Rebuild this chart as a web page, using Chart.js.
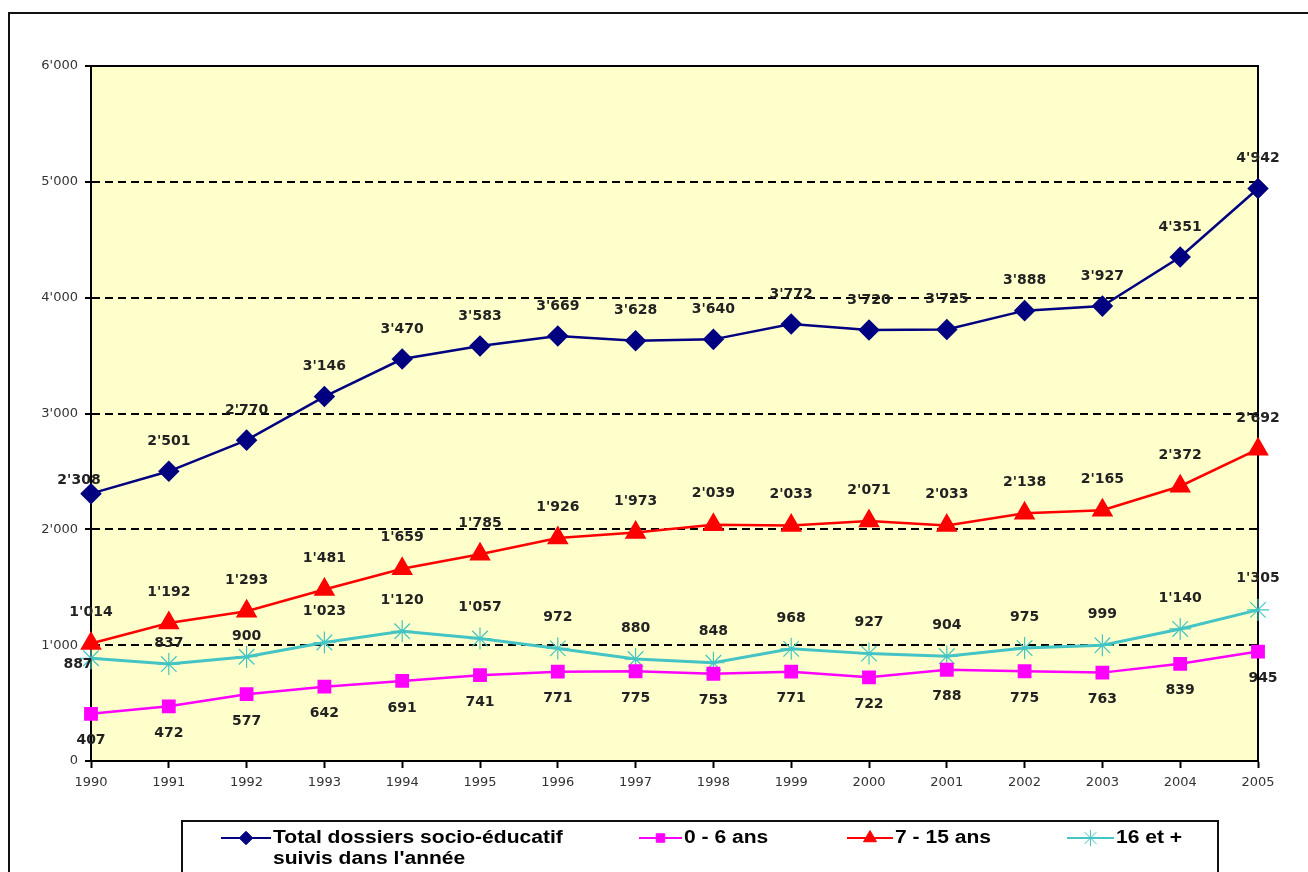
<!DOCTYPE html>
<html>
<head>
<meta charset="utf-8">
<script src="https://cdn.jsdelivr.net/npm/chart.js@4"></script>
<style>
  html,body{margin:0;padding:0;background:#fff;}
  #wrap{width:1308px;height:872px;position:relative;}
</style>
</head>
<body>
<div id="wrap"><canvas id="chart" width="1308" height="872"></canvas></div>
<script>
const years = ['1990','1991','1992','1993','1994','1995','1996','1997','1998','1999','2000','2001','2002','2003','2004','2005'];
const totalDossiers = [2308,2501,2770,3146,3470,3583,3669,3628,3640,3772,3720,3725,3888,3927,4351,4942];
const ans0a6 = [407,472,577,642,691,741,771,775,753,771,722,788,775,763,839,945];
const ans7a15 = [1014,1192,1293,1481,1659,1785,1926,1973,2039,2033,2071,2033,2138,2165,2372,2692];
const ans16plus = [887,837,900,1023,1120,1057,972,880,848,968,927,904,975,999,1140,1305];
const yTicks = [0,1000,2000,3000,4000,5000,6000];

const fmt = v => v >= 1000 ? Math.floor(v/1000) + "'" + String(v%1000).padStart(3,'0') : String(v);

// yellow plot area, outer frame, solid top/right edges
const plotFrame = {
  id:'plotFrame',
  beforeDraw(c){
    const {ctx, chartArea:a} = c;
    ctx.save();
    ctx.fillStyle = '#fff';
    ctx.fillRect(0,0,c.width,c.height);
    ctx.fillStyle = '#ffffcc';
    ctx.fillRect(a.left,a.top,a.right-a.left,a.bottom-a.top);
    ctx.strokeStyle = '#111'; ctx.lineWidth = 2;
    ctx.strokeRect(9,13,1330,900);
    ctx.restore();
  },
  beforeDatasetsDraw(c){
    const {ctx, chartArea:a} = c;
    ctx.save();
    ctx.strokeStyle = '#000'; ctx.lineWidth = 2;
    ctx.beginPath();
    ctx.moveTo(a.left,a.top); ctx.lineTo(a.right,a.top); ctx.lineTo(a.right,a.bottom);
    ctx.stroke();
    ctx.restore();
  }
};

// value labels next to each point
const valueLabels = {
  id:'valueLabels',
  afterDatasetsDraw(c){
    const ctx = c.ctx;
    ctx.save();
    ctx.font = 'bold 14px "DejaVu Sans", sans-serif';
    ctx.fillStyle = '#222';
    ctx.textAlign = 'center';
    ctx.textBaseline = 'middle';
    c.data.datasets.forEach((ds,i) => {
      const meta = c.getDatasetMeta(i);
      meta.data.forEach((pt,j) => {
        const shift = (ds.labelShift && ds.labelShift[j]) || [0,0];
        ctx.fillText(fmt(ds.data[j]), pt.x + shift[0], pt.y + ds.labelDy + shift[1]);
      });
    });
    ctx.restore();
  }
};

// boxed legend under the chart, first entry on two lines
const boxLegend = {
  id:'boxLegend',
  afterDraw(c){
    const ctx = c.ctx;
    ctx.save();
    ctx.strokeStyle = '#111'; ctx.lineWidth = 2;
    ctx.strokeRect(182,821,1036,80);
    const items = [
      {ds:0, x:221, w:50, lines:['Total dossiers socio-éducatif',"suivis dans l'année"]},
      {ds:1, x:639, w:43, lines:['0 - 6 ans']},
      {ds:2, x:847, w:46, lines:['7 - 15 ans']},
      {ds:3, x:1067, w:47, lines:['16 et +']}
    ];
    const y = 838;
    items.forEach(it => {
      const ds = c.data.datasets[it.ds];
      ctx.strokeStyle = ds.borderColor; ctx.lineWidth = 2;
      ctx.beginPath(); ctx.moveTo(it.x,y); ctx.lineTo(it.x+it.w,y); ctx.stroke();
      ctx.fillStyle = ds.pointBackgroundColor;
      ctx.lineWidth = 1;
      Chart.helpers.drawPoint(ctx, {pointStyle:ds.pointStyle, radius:ds.pointRadius*0.75, borderWidth:1}, it.x+it.w/2, y);
      ctx.fillStyle = '#000';
      ctx.font = 'bold 18px "Liberation Sans", Arial, sans-serif';
      ctx.textBaseline = 'middle';
      // text is a little wider than the font, stretch horizontally
      it.lines.forEach((t,k) => {
        ctx.save();
        ctx.translate(it.x+it.w+2, y + k*21);
        ctx.scale(1.17,1);
        ctx.fillText(t, 0, 0);
        ctx.restore();
      });
    });
    ctx.restore();
  }
};

new Chart(document.getElementById('chart'), {
  type:'line',
  data:{
    labels: years,
    datasets:[
      {label:'Total dossiers socio-éducatif suivis dans l\'année', data:totalDossiers, borderColor:'#000080', backgroundColor:'#000080',
       pointBackgroundColor:'#000080', pointStyle:'rectRot', pointRadius:9, borderWidth:2.5, labelDy:-30,
       labelShift:{0:[-12,17]}},
      {label:'0 - 6 ans', data:ans0a6, borderColor:'#ff00ff', backgroundColor:'#ff00ff',
       pointBackgroundColor:'#ff00ff', pointStyle:'rect', pointRadius:8, borderWidth:2.5, labelDy:27,
       labelShift:{15:[5,0]}},
      {label:'7 - 15 ans', data:ans7a15, borderColor:'#ff0000', backgroundColor:'#ff0000',
       pointBackgroundColor:'#ff0000', pointStyle:'triangle', pointRadius:10, borderWidth:2.5, labelDy:-31},
      {label:'16 et +', data:ans16plus, borderColor:'#44c4c4', backgroundColor:'#44c4c4',
       pointBackgroundColor:'#44c4c4', pointStyle:'star', pointRadius:11, pointBorderWidth:1.2, borderWidth:3, labelDy:-31,
       labelShift:{0:[-13,37], 1:[0,10], 2:[0,11]}}
    ]
  },
  options:{
    responsive:false,
    animation:false,
    layout:{padding:{top:66,right:50,left:0,bottom:0}},
    plugins:{legend:{display:false}, tooltip:{enabled:false}},
    elements:{line:{tension:0}, point:{borderWidth:1}},
    scales:{
      x:{
        offset:false,
        grid:{drawOnChartArea:false, drawTicks:true, tickLength:7, tickColor:'#000', tickWidth:2},
        border:{color:'#000', width:2},
        ticks:{color:'#333', font:{family:'"DejaVu Sans", sans-serif', size:13}, padding:7, maxRotation:0, autoSkip:false},
        afterFit(s){ s.height = 872 - 761; }
      },
      y:{
        min:0, max:6000,
        afterBuildTicks(s){ s.ticks = yTicks.map(v => ({value:v})); },
        grid:{color:'#000', lineWidth:2, tickBorderDash:[], tickColor:'#000', tickLength:6, tickWidth:2},
        border:{color:'#000', width:2, dash:[8,5]},
        ticks:{color:'#333', font:{family:'"DejaVu Sans", sans-serif', size:13}, padding:7, callback:v => fmt(v)},
        afterFit(s){ s.width = 91; }
      }
    }
  },
  plugins:[plotFrame, valueLabels, boxLegend]
});
</script>
</body>
</html>
